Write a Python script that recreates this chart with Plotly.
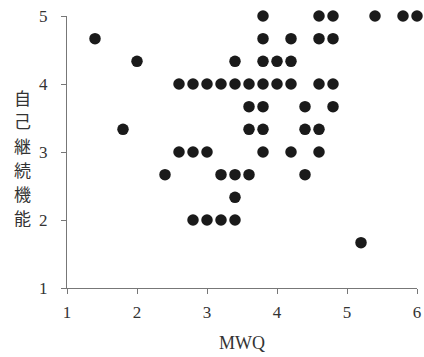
import plotly.graph_objects as go

# MWQ (x) and 自己継続機能 (y) values
mwq = [3.8, 4.6, 4.8, 5.4, 5.8, 6.0,
       1.4, 3.8, 4.2, 4.6, 4.8,
       2.0, 3.4, 3.8, 4.0, 4.2,
       2.6, 2.8, 3.0, 3.2, 3.4, 3.6, 3.8, 4.0, 4.2, 4.6, 4.8,
       3.6, 3.8, 4.4, 4.8,
       1.8, 3.6, 3.8, 4.4, 4.6,
       2.6, 2.8, 3.0, 3.8, 4.2, 4.6,
       2.4, 3.2, 3.4, 3.6, 4.4,
       3.4,
       2.8, 3.0, 3.2, 3.4,
       5.2]
self_cont = [5, 5, 5, 5, 5, 5,
             4.667, 4.667, 4.667, 4.667, 4.667,
             4.333, 4.333, 4.333, 4.333, 4.333,
             4, 4, 4, 4, 4, 4, 4, 4, 4, 4, 4,
             3.667, 3.667, 3.667, 3.667,
             3.333, 3.333, 3.333, 3.333, 3.333,
             3, 3, 3, 3, 3, 3,
             2.667, 2.667, 2.667, 2.667, 2.667,
             2.333,
             2, 2, 2, 2,
             1.667]

x_ticks = [1, 2, 3, 4, 5, 6]
y_ticks = [1, 2, 3, 4, 5]
x_title = "MWQ"
y_title = "自己継続機能"

serif = "Liberation Serif"

fig = go.Figure()
fig.add_trace(go.Scatter(
    x=mwq, y=self_cont, mode="markers",
    marker=dict(size=11.5, color="#1a1a1a", line=dict(width=0)),
    cliponaxis=False, hoverinfo="skip",
))

axis_common = dict(
    showgrid=False, zeroline=False, showline=True, linecolor="#777",
    linewidth=1, ticks="outside", ticklen=5, tickcolor="#777", tickwidth=1,
    tickfont=dict(family=serif, size=17, color="#333"),
    automargin=False, ticklabeloverflow="allow",
)
fig.update_xaxes(range=[1, 6], tickvals=x_ticks, ticklabelstandoff=4, **axis_common)
fig.update_yaxes(range=[1, 5], tickvals=y_ticks, ticklabelstandoff=10, **axis_common)

fig.add_annotation(
    text=x_title, xref="paper", yref="paper", x=0.5, y=(288 - 343) / 272,
    xanchor="center", yanchor="middle", showarrow=False,
    font=dict(family=serif, size=18, color="#333"),
)
char_px = [97, 121, 145, 169, 193, 217]
for ch, p in zip(y_title, char_px):
    fig.add_annotation(
        text=ch, xref="paper", yref="paper",
        x=(22 - 67) / 350, y=(288 - p) / 272, xanchor="center", yanchor="middle",
        showarrow=False,
        font=dict(family="Noto Sans CJK JP", size=17, color="#333"),
    )

fig.update_layout(
    width=424, height=357,
    margin=dict(l=67, r=7, t=16, b=69),
    plot_bgcolor="white", paper_bgcolor="white",
    showlegend=False, hovermode=False,
)
fig.write_html(
    "out.html", default_width="424px", default_height="357px",
    config={"displayModeBar": False, "staticPlot": True},
    post_script="document.body.style.margin='0';document.body.style.overflow='hidden';",
)
